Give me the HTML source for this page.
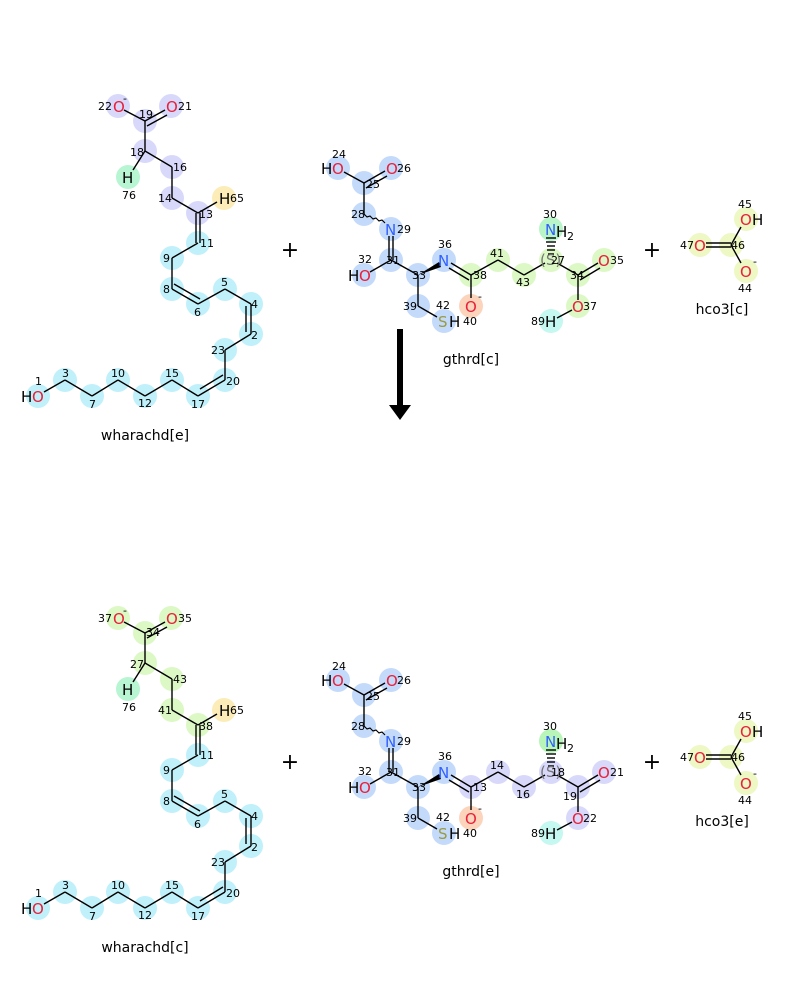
<!DOCTYPE html>
<html><head><meta charset="utf-8"><style>
html,body{margin:0;padding:0;background:#fff;}
svg{display:block;font-family:"DejaVu Sans","Liberation Sans",sans-serif;}
.n{font-size:11px;fill:#000;}
.e{font-size:15px;}
.O{fill:#e8203a;} .N{fill:#3060ff;} .S{fill:#9a9a40;} .H{fill:#000;}
.lbl{font-size:14px;fill:#000;}
line{stroke:#000;stroke-width:1.4;}
</style></head><body>
<svg width="800" height="1000" viewBox="0 0 800 1000">
<defs></defs>

<!-- ============ wharachd[e] (top) ============ -->
<g>
<g stroke="none">
<circle cx="118" cy="106" r="12" fill="#d8d8fa"/><circle cx="145" cy="121" r="12" fill="#d8d8fa"/><circle cx="171" cy="106" r="12" fill="#d8d8fa"/><circle cx="145" cy="151" r="12" fill="#d8d8fa"/><circle cx="128" cy="177" r="12" fill="#b8f5d2"/><circle cx="172" cy="167" r="12" fill="#d8d8fa"/><circle cx="172" cy="198" r="12" fill="#d8d8fa"/><circle cx="198" cy="213" r="12" fill="#d8d8fa"/><circle cx="224" cy="198" r="12" fill="#fcecb8"/>
<circle cx="198" cy="243" r="12" fill="#c0f0fa"/><circle cx="172" cy="258" r="12" fill="#c0f0fa"/><circle cx="172" cy="289" r="12" fill="#c0f0fa"/><circle cx="198" cy="304" r="12" fill="#c0f0fa"/><circle cx="225" cy="289" r="12" fill="#c0f0fa"/><circle cx="251" cy="304" r="12" fill="#c0f0fa"/><circle cx="251" cy="334" r="12" fill="#c0f0fa"/><circle cx="225" cy="350" r="12" fill="#c0f0fa"/><circle cx="225" cy="380" r="12" fill="#c0f0fa"/><circle cx="198" cy="396" r="12" fill="#c0f0fa"/><circle cx="172" cy="380" r="12" fill="#c0f0fa"/><circle cx="145" cy="396" r="12" fill="#c0f0fa"/><circle cx="118" cy="380" r="12" fill="#c0f0fa"/><circle cx="92" cy="396" r="12" fill="#c0f0fa"/><circle cx="65" cy="380" r="12" fill="#c0f0fa"/><circle cx="38" cy="396" r="12" fill="#c0f0fa"/>
</g>
<line x1="124" y1="110" x2="145" y2="121"/><line x1="145" y1="121" x2="165" y2="110"/><line x1="147" y1="126" x2="167" y2="115"/>
<line x1="145" y1="121" x2="145" y2="151"/><line x1="145" y1="151" x2="133" y2="170"/><line x1="145" y1="151" x2="172" y2="167"/><line x1="172" y1="167" x2="172" y2="198"/><line x1="172" y1="198" x2="198" y2="213"/><line x1="198" y1="213" x2="217" y2="202"/>
<line x1="196" y1="213" x2="196" y2="243"/><line x1="200" y1="213" x2="200" y2="243"/>
<line x1="198" y1="243" x2="172" y2="258"/><line x1="172" y1="258" x2="172" y2="289"/><line x1="172" y1="289" x2="198" y2="304"/><line x1="174" y1="284" x2="200" y2="299"/>
<line x1="198" y1="304" x2="225" y2="289"/><line x1="225" y1="289" x2="251" y2="304"/><line x1="251" y1="304" x2="251" y2="334"/><line x1="246" y1="306" x2="246" y2="332"/>
<line x1="251" y1="334" x2="225" y2="350"/><line x1="225" y1="350" x2="225" y2="380"/><line x1="225" y1="380" x2="198" y2="396"/><line x1="223" y1="375" x2="200" y2="389"/>
<line x1="198" y1="396" x2="172" y2="380"/><line x1="172" y1="380" x2="145" y2="396"/><line x1="145" y1="396" x2="118" y2="380"/><line x1="118" y1="380" x2="92" y2="396"/><line x1="92" y1="396" x2="65" y2="380"/><line x1="65" y1="380" x2="44" y2="392"/>
<text class="e O" x="113" y="112">O</text><text class="n" x="123" y="102">-</text><text class="n" x="98" y="110">22</text>
<text class="e O" x="166" y="112">O</text><text class="n" x="178" y="110">21</text>
<text class="n" x="139" y="118">19</text><text class="n" x="130" y="156">18</text>
<text class="e H" x="122" y="183">H</text><text class="n" x="122" y="199">76</text>
<text class="n" x="173" y="171">16</text><text class="n" x="158" y="202">14</text><text class="n" x="199" y="218">13</text>
<text class="e H" x="219" y="204">H</text><text class="n" x="230" y="202">65</text>
<text class="n" x="200" y="247">11</text><text class="n" x="163" y="262">9</text><text class="n" x="163" y="293">8</text><text class="n" x="194" y="316">6</text><text class="n" x="221" y="286">5</text><text class="n" x="251" y="308">4</text><text class="n" x="251" y="339">2</text><text class="n" x="211" y="354">23</text><text class="n" x="226" y="385">20</text><text class="n" x="191" y="408">17</text><text class="n" x="165" y="377">15</text><text class="n" x="138" y="407">12</text><text class="n" x="111" y="377">10</text><text class="n" x="89" y="408">7</text><text class="n" x="62" y="377">3</text><text class="n" x="35" y="385">1</text>
<text class="e H" x="21" y="402">H</text><text class="e O" x="32" y="402">O</text>
<text class="lbl" x="145" y="440" text-anchor="middle">wharachd[e]</text>
</g>

<!-- ============ wharachd[c] (bottom) ============ -->
<g transform="translate(0,512)">
<g stroke="none">
<circle cx="118" cy="106" r="12" fill="#dcf8c4"/><circle cx="145" cy="121" r="12" fill="#dcf8c4"/><circle cx="171" cy="106" r="12" fill="#dcf8c4"/><circle cx="145" cy="151" r="12" fill="#dcf8c4"/><circle cx="128" cy="177" r="12" fill="#b8f5d2"/><circle cx="172" cy="167" r="12" fill="#dcf8c4"/><circle cx="172" cy="198" r="12" fill="#dcf8c4"/><circle cx="198" cy="213" r="12" fill="#dcf8c4"/><circle cx="224" cy="198" r="12" fill="#fcecb8"/>
<circle cx="198" cy="243" r="12" fill="#c0f0fa"/><circle cx="172" cy="258" r="12" fill="#c0f0fa"/><circle cx="172" cy="289" r="12" fill="#c0f0fa"/><circle cx="198" cy="304" r="12" fill="#c0f0fa"/><circle cx="225" cy="289" r="12" fill="#c0f0fa"/><circle cx="251" cy="304" r="12" fill="#c0f0fa"/><circle cx="251" cy="334" r="12" fill="#c0f0fa"/><circle cx="225" cy="350" r="12" fill="#c0f0fa"/><circle cx="225" cy="380" r="12" fill="#c0f0fa"/><circle cx="198" cy="396" r="12" fill="#c0f0fa"/><circle cx="172" cy="380" r="12" fill="#c0f0fa"/><circle cx="145" cy="396" r="12" fill="#c0f0fa"/><circle cx="118" cy="380" r="12" fill="#c0f0fa"/><circle cx="92" cy="396" r="12" fill="#c0f0fa"/><circle cx="65" cy="380" r="12" fill="#c0f0fa"/><circle cx="38" cy="396" r="12" fill="#c0f0fa"/>
</g>
<line x1="124" y1="110" x2="145" y2="121"/><line x1="145" y1="121" x2="165" y2="110"/><line x1="147" y1="126" x2="167" y2="115"/>
<line x1="145" y1="121" x2="145" y2="151"/><line x1="145" y1="151" x2="133" y2="170"/><line x1="145" y1="151" x2="172" y2="167"/><line x1="172" y1="167" x2="172" y2="198"/><line x1="172" y1="198" x2="198" y2="213"/><line x1="198" y1="213" x2="217" y2="202"/>
<line x1="196" y1="213" x2="196" y2="243"/><line x1="200" y1="213" x2="200" y2="243"/>
<line x1="198" y1="243" x2="172" y2="258"/><line x1="172" y1="258" x2="172" y2="289"/><line x1="172" y1="289" x2="198" y2="304"/><line x1="174" y1="284" x2="200" y2="299"/>
<line x1="198" y1="304" x2="225" y2="289"/><line x1="225" y1="289" x2="251" y2="304"/><line x1="251" y1="304" x2="251" y2="334"/><line x1="246" y1="306" x2="246" y2="332"/>
<line x1="251" y1="334" x2="225" y2="350"/><line x1="225" y1="350" x2="225" y2="380"/><line x1="225" y1="380" x2="198" y2="396"/><line x1="223" y1="375" x2="200" y2="389"/>
<line x1="198" y1="396" x2="172" y2="380"/><line x1="172" y1="380" x2="145" y2="396"/><line x1="145" y1="396" x2="118" y2="380"/><line x1="118" y1="380" x2="92" y2="396"/><line x1="92" y1="396" x2="65" y2="380"/><line x1="65" y1="380" x2="44" y2="392"/>
<text class="e O" x="113" y="112">O</text><text class="n" x="123" y="102">-</text><text class="n" x="98" y="110">37</text>
<text class="e O" x="166" y="112">O</text><text class="n" x="178" y="110">35</text>
<text class="n" x="146" y="124">34</text><text class="n" x="130" y="156">27</text>
<text class="e H" x="122" y="183">H</text><text class="n" x="122" y="199">76</text>
<text class="n" x="173" y="171">43</text><text class="n" x="158" y="202">41</text><text class="n" x="199" y="218">38</text>
<text class="e H" x="219" y="204">H</text><text class="n" x="230" y="202">65</text>
<text class="n" x="200" y="247">11</text><text class="n" x="163" y="262">9</text><text class="n" x="163" y="293">8</text><text class="n" x="194" y="316">6</text><text class="n" x="221" y="286">5</text><text class="n" x="251" y="308">4</text><text class="n" x="251" y="339">2</text><text class="n" x="211" y="354">23</text><text class="n" x="226" y="385">20</text><text class="n" x="191" y="408">17</text><text class="n" x="165" y="377">15</text><text class="n" x="138" y="407">12</text><text class="n" x="111" y="377">10</text><text class="n" x="89" y="408">7</text><text class="n" x="62" y="377">3</text><text class="n" x="35" y="385">1</text>
<text class="e H" x="21" y="402">H</text><text class="e O" x="32" y="402">O</text>
<text class="lbl" x="145" y="440" text-anchor="middle">wharachd[c]</text>
</g>

<!-- ============ gthrd[c] (top) ============ -->
<g>
<g stroke="none">
<circle cx="338" cy="168" r="12" fill="#c4dafa"/><circle cx="364" cy="183" r="12" fill="#c4dafa"/><circle cx="391" cy="168" r="12" fill="#c4dafa"/><circle cx="364" cy="214" r="12" fill="#c4dafa"/><circle cx="391" cy="229" r="12" fill="#c4dafa"/><circle cx="391" cy="260" r="12" fill="#c4dafa"/><circle cx="364" cy="275" r="12" fill="#c4dafa"/><circle cx="418" cy="275" r="12" fill="#c4dafa"/><circle cx="444" cy="260" r="12" fill="#c4dafa"/><circle cx="418" cy="306" r="12" fill="#c4dafa"/><circle cx="444" cy="321" r="12" fill="#c4dafa"/>
<circle cx="471" cy="275" r="12" fill="#dcf8c4"/><circle cx="471" cy="306" r="12" fill="#fcd4bc"/><circle cx="498" cy="260" r="12" fill="#dcf8c4"/><circle cx="524" cy="275" r="12" fill="#dcf8c4"/><circle cx="551" cy="260" r="12" fill="#dcf8c4"/><circle cx="551" cy="229" r="12" fill="#b8f5c8"/><circle cx="578" cy="275" r="12" fill="#dcf8c4"/><circle cx="604" cy="260" r="12" fill="#dcf8c4"/><circle cx="578" cy="306" r="12" fill="#dcf8c4"/><circle cx="551" cy="321" r="12" fill="#c4f8f0"/>
</g>
<line x1="344" y1="172" x2="364" y2="183"/><line x1="364" y1="183" x2="385" y2="171"/><line x1="366" y1="188" x2="387" y2="176"/>
<line x1="364" y1="183" x2="364" y2="214"/><path d="M364 214 l3 3 l3 -1 l3 3 l3 -1 l3 3 l3 -1 l3 3" fill="none" stroke="#000" stroke-width="1.2"/>
<line x1="389" y1="236" x2="389" y2="260"/><line x1="393" y1="236" x2="393" y2="260"/>
<line x1="391" y1="260" x2="370" y2="272"/><line x1="391" y1="260" x2="418" y2="275"/>
<polygon points="418,275 439,262 441,267" fill="#000"/>
<line x1="451" y1="263" x2="471" y2="275"/><line x1="449" y1="268" x2="469" y2="280"/>
<line x1="418" y1="275" x2="418" y2="306"/><line x1="418" y1="306" x2="437" y2="317"/>
<line x1="471" y1="275" x2="471" y2="298"/><line x1="471" y1="275" x2="498" y2="260"/><line x1="498" y1="260" x2="524" y2="275"/><line x1="524" y1="275" x2="545" y2="263"/><line x1="557" y1="263" x2="578" y2="275"/>
<g stroke="#000" stroke-width="1"><line x1="548" y1="254" x2="554" y2="254"/><line x1="547" y1="250" x2="555" y2="250"/><line x1="547" y1="246" x2="555" y2="246"/><line x1="546" y1="242" x2="556" y2="242"/><line x1="546" y1="238" x2="556" y2="238"/></g>
<line x1="578" y1="275" x2="598" y2="263"/><line x1="580" y1="280" x2="600" y2="268"/><line x1="578" y1="275" x2="578" y2="300"/><line x1="572" y1="310" x2="557" y2="318"/>
<text class="e H" x="321" y="174">H</text><text class="e O" x="332" y="174">O</text><text class="n" x="332" y="158">24</text>
<text class="e O" x="386" y="174">O</text><text class="n" x="397" y="172">26</text><text class="n" x="366" y="188">25</text><text class="n" x="351" y="218">28</text>
<text class="e N" x="385" y="235">N</text><text class="n" x="397" y="233">29</text>
<text class="n" x="358" y="263">32</text><text class="n" x="386" y="264">31</text>
<text class="e H" x="348" y="281">H</text><text class="e O" x="359" y="281">O</text>
<text class="n" x="412" y="279">33</text><text class="n" x="438" y="248">36</text><text class="e N" x="438" y="266">N</text>
<text class="n" x="473" y="279">38</text><text class="e O" x="465" y="312">O</text><text class="n" x="478" y="300">-</text><text class="n" x="463" y="325">40</text>
<text class="n" x="403" y="310">39</text><text class="n" x="436" y="309">42</text><text class="e S" x="438" y="327">S</text><text class="e H" x="449" y="327">H</text>
<text class="n" x="490" y="257">41</text><text class="n" x="516" y="286">43</text>
<text class="n" x="543" y="218">30</text><text class="e N" x="545" y="235">N</text><text class="e H" x="556" y="237">H</text><text class="n" x="567" y="240">2</text>
<text class="e" fill="#777" x="540" y="265">(S)</text><text class="n" x="551" y="264">27</text>
<text class="n" x="570" y="279">34</text><text class="e O" x="598" y="266">O</text><text class="n" x="610" y="264">35</text>
<text class="e O" x="572" y="312">O</text><text class="n" x="583" y="310">37</text><text class="n" x="531" y="325">89</text><text class="e H" x="545" y="327">H</text>
<text class="lbl" x="471" y="364" text-anchor="middle">gthrd[c]</text>
</g>

<!-- ============ gthrd[e] (bottom) ============ -->
<g transform="translate(0,512)">
<g stroke="none">
<circle cx="338" cy="168" r="12" fill="#c4dafa"/><circle cx="364" cy="183" r="12" fill="#c4dafa"/><circle cx="391" cy="168" r="12" fill="#c4dafa"/><circle cx="364" cy="214" r="12" fill="#c4dafa"/><circle cx="391" cy="229" r="12" fill="#c4dafa"/><circle cx="391" cy="260" r="12" fill="#c4dafa"/><circle cx="364" cy="275" r="12" fill="#c4dafa"/><circle cx="418" cy="275" r="12" fill="#c4dafa"/><circle cx="444" cy="260" r="12" fill="#c4dafa"/><circle cx="418" cy="306" r="12" fill="#c4dafa"/><circle cx="444" cy="321" r="12" fill="#c4dafa"/>
<circle cx="471" cy="275" r="12" fill="#d8d8fa"/><circle cx="471" cy="306" r="12" fill="#fcd4bc"/><circle cx="498" cy="260" r="12" fill="#d8d8fa"/><circle cx="524" cy="275" r="12" fill="#d8d8fa"/><circle cx="551" cy="260" r="12" fill="#d8d8fa"/><circle cx="551" cy="229" r="12" fill="#b8f5b8"/><circle cx="578" cy="275" r="12" fill="#d8d8fa"/><circle cx="604" cy="260" r="12" fill="#d8d8fa"/><circle cx="578" cy="306" r="12" fill="#d8d8fa"/><circle cx="551" cy="321" r="12" fill="#c4f8f0"/>
</g>
<line x1="344" y1="172" x2="364" y2="183"/><line x1="364" y1="183" x2="385" y2="171"/><line x1="366" y1="188" x2="387" y2="176"/>
<line x1="364" y1="183" x2="364" y2="214"/><path d="M364 214 l3 3 l3 -1 l3 3 l3 -1 l3 3 l3 -1 l3 3" fill="none" stroke="#000" stroke-width="1.2"/>
<line x1="389" y1="236" x2="389" y2="260"/><line x1="393" y1="236" x2="393" y2="260"/>
<line x1="391" y1="260" x2="370" y2="272"/><line x1="391" y1="260" x2="418" y2="275"/>
<polygon points="418,275 439,262 441,267" fill="#000"/>
<line x1="451" y1="263" x2="471" y2="275"/><line x1="449" y1="268" x2="469" y2="280"/>
<line x1="418" y1="275" x2="418" y2="306"/><line x1="418" y1="306" x2="437" y2="317"/>
<line x1="471" y1="275" x2="471" y2="298"/><line x1="471" y1="275" x2="498" y2="260"/><line x1="498" y1="260" x2="524" y2="275"/><line x1="524" y1="275" x2="545" y2="263"/><line x1="557" y1="263" x2="578" y2="275"/>
<g stroke="#000" stroke-width="1"><line x1="548" y1="254" x2="554" y2="254"/><line x1="547" y1="250" x2="555" y2="250"/><line x1="547" y1="246" x2="555" y2="246"/><line x1="546" y1="242" x2="556" y2="242"/><line x1="546" y1="238" x2="556" y2="238"/></g>
<line x1="578" y1="275" x2="598" y2="263"/><line x1="580" y1="280" x2="600" y2="268"/><line x1="578" y1="275" x2="578" y2="300"/><line x1="572" y1="310" x2="557" y2="318"/>
<text class="e H" x="321" y="174">H</text><text class="e O" x="332" y="174">O</text><text class="n" x="332" y="158">24</text>
<text class="e O" x="386" y="174">O</text><text class="n" x="397" y="172">26</text><text class="n" x="366" y="188">25</text><text class="n" x="351" y="218">28</text>
<text class="e N" x="385" y="235">N</text><text class="n" x="397" y="233">29</text>
<text class="n" x="358" y="263">32</text><text class="n" x="386" y="264">31</text>
<text class="e H" x="348" y="281">H</text><text class="e O" x="359" y="281">O</text>
<text class="n" x="412" y="279">33</text><text class="n" x="438" y="248">36</text><text class="e N" x="438" y="266">N</text>
<text class="n" x="473" y="279">13</text><text class="e O" x="465" y="312">O</text><text class="n" x="478" y="300">-</text><text class="n" x="463" y="325">40</text>
<text class="n" x="403" y="310">39</text><text class="n" x="436" y="309">42</text><text class="e S" x="438" y="327">S</text><text class="e H" x="449" y="327">H</text>
<text class="n" x="490" y="257">14</text><text class="n" x="516" y="286">16</text>
<text class="n" x="543" y="218">30</text><text class="e N" x="545" y="235">N</text><text class="e H" x="556" y="237">H</text><text class="n" x="567" y="240">2</text>
<text class="e" fill="#777" x="540" y="265">(S)</text><text class="n" x="551" y="264">18</text>
<text class="n" x="563" y="288">19</text><text class="e O" x="598" y="266">O</text><text class="n" x="610" y="264">21</text>
<text class="e O" x="572" y="312">O</text><text class="n" x="583" y="310">22</text><text class="n" x="531" y="325">89</text><text class="e H" x="545" y="327">H</text>
<text class="lbl" x="471" y="364" text-anchor="middle">gthrd[e]</text>
</g>

<!-- ============ hco3 ============ -->
<g>
<circle cx="700" cy="245" r="12" fill="#eef8c4"/><circle cx="731" cy="245" r="12" fill="#eef8c4"/><circle cx="746" cy="219" r="12" fill="#eef8c4"/><circle cx="746" cy="271" r="12" fill="#eef8c4"/>
<line x1="706" y1="243" x2="731" y2="243"/><line x1="706" y1="247" x2="731" y2="247"/><line x1="731" y1="245" x2="741" y2="227"/><line x1="731" y1="245" x2="741" y2="263"/>
<text class="n" x="680" y="249">47</text><text class="e O" x="694" y="251">O</text><text class="n" x="731" y="249">46</text>
<text class="n" x="738" y="208">45</text><text class="e O" x="740" y="225">O</text><text class="e H" x="752" y="225">H</text>
<text class="e O" x="740" y="277">O</text><text class="n" x="753" y="265">-</text><text class="n" x="738" y="292">44</text>
<text class="lbl" x="722" y="314" text-anchor="middle">hco3[c]</text>
</g>
<g transform="translate(0,512)">
<circle cx="700" cy="245" r="12" fill="#eef8c4"/><circle cx="731" cy="245" r="12" fill="#eef8c4"/><circle cx="746" cy="219" r="12" fill="#eef8c4"/><circle cx="746" cy="271" r="12" fill="#eef8c4"/>
<line x1="706" y1="243" x2="731" y2="243"/><line x1="706" y1="247" x2="731" y2="247"/><line x1="731" y1="245" x2="741" y2="227"/><line x1="731" y1="245" x2="741" y2="263"/>
<text class="n" x="680" y="249">47</text><text class="e O" x="694" y="251">O</text><text class="n" x="731" y="249">46</text>
<text class="n" x="738" y="208">45</text><text class="e O" x="740" y="225">O</text><text class="e H" x="752" y="225">H</text>
<text class="e O" x="740" y="277">O</text><text class="n" x="753" y="265">-</text><text class="n" x="738" y="292">44</text>
<text class="lbl" x="722" y="314" text-anchor="middle">hco3[e]</text>
</g>

<!-- plus signs -->
<g font-size="22" fill="#000">
<text x="290" y="257" text-anchor="middle">+</text><text x="652" y="257" text-anchor="middle">+</text>
<text x="290" y="769" text-anchor="middle">+</text><text x="652" y="769" text-anchor="middle">+</text>
</g>

<!-- reaction arrow -->
<rect x="397" y="329" width="6" height="78" fill="#000"/>
<polygon points="389,405 411,405 400,420" fill="#000"/>
</svg>
</body></html>
